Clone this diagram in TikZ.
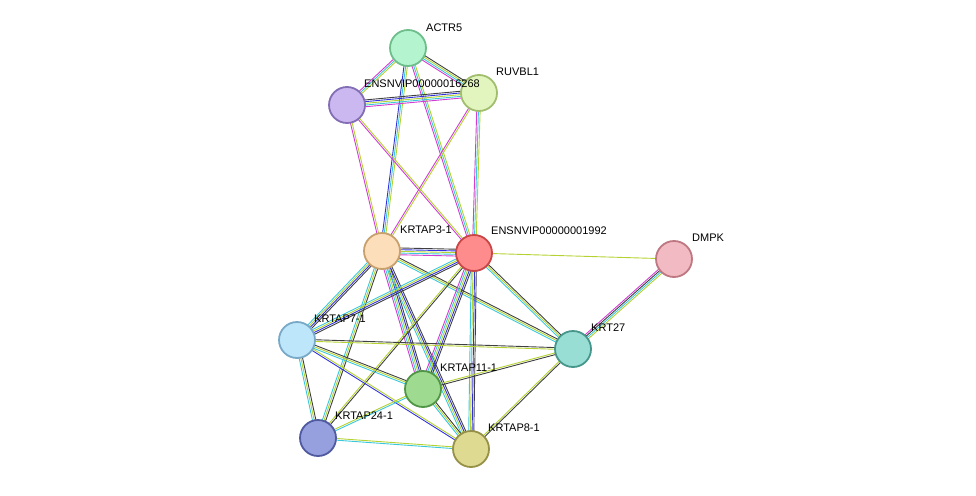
\documentclass[tikz,border=0pt]{standalone}
\usepackage{fontspec}
\setmainfont{Liberation Sans}
\usetikzlibrary{calc, backgrounds}
\definecolor{emag}{HTML}{D23CD2}
\definecolor{ecya}{HTML}{3CC8DC}
\definecolor{elim}{HTML}{B4D232}
\definecolor{eblu}{HTML}{3232DC}
\definecolor{eblk}{HTML}{404040}
\tikzset{
prot/.style={circle, draw, line width=1.8pt, minimum size=36pt, inner sep=0pt}, % protein nodes
lbl/.style={anchor=west, font=\fontsize{11}{12}\selectfont, inner sep=1pt}, % protein names
}
% multi-coloured evidence edge: nodes, number of lines, colours
\newcommand{\ppilink}[4]{
  \foreach \c [count=\i] in {#4} {
    \pgfmathsetmacro{\o}{(\i-(#3+1)/2)*1.7}
    \draw[\c, line width=0.9pt] ($(#1.center)!\o pt!90:(#2.center)$) -- ($(#2.center)!\o pt!-90:(#1.center)$);
  }
}
\begin{document}
\begin{tikzpicture}[x=1pt, y=-1pt]
\useasboundingbox (0,0) rectangle (976,495);
\node[prot, fill={rgb,255:red,180;green,245;blue,208}, draw={rgb,255:red,110;green,190;blue,140}] (actr5) at (408,48) {};
\node[prot, fill={rgb,255:red,204;green,184;blue,240}, draw={rgb,255:red,130;green,110;blue,180}] (e16268) at (347,105) {};
\node[prot, fill={rgb,255:red,226;green,245;blue,190}, draw={rgb,255:red,160;green,190;blue,110}] (ruvbl1) at (479,93) {};
\node[prot, fill={rgb,255:red,253;green,222;blue,186}, draw={rgb,255:red,200;green,160;blue,110}] (krtap3) at (382,251) {};
\node[prot, fill={rgb,255:red,255;green,140;blue,140}, draw={rgb,255:red,200;green,70;blue,70}] (e1992) at (474,253) {};
\node[prot, fill={rgb,255:red,242;green,186;blue,194}, draw={rgb,255:red,190;green,120;blue,130}] (dmpk) at (674,259) {};
\node[prot, fill={rgb,255:red,190;green,230;blue,250}, draw={rgb,255:red,120;green,170;blue,200}] (krtap7) at (297,340) {};
\node[prot, fill={rgb,255:red,153;green,222;blue,212}, draw={rgb,255:red,70;green,150;blue,140}] (krt27) at (573,349) {};
\node[prot, fill={rgb,255:red,158;green,218;blue,144}, draw={rgb,255:red,80;green,150;blue,70}] (krtap11) at (423,389) {};
\node[prot, fill={rgb,255:red,150;green,160;blue,222}, draw={rgb,255:red,80;green,90;blue,160}] (krtap24) at (318,438) {};
\node[prot, fill={rgb,255:red,222;green,218;blue,146}, draw={rgb,255:red,150;green,145;blue,70}] (krtap8) at (471,449) {};

\node[lbl] (l1) at (425,28) {ACTR5};
\node[lbl] (l2) at (363,84) {ENSNVIP00000016268};
\node[lbl] (l3) at (495,72) {RUVBL1};
\node[lbl] (l4) at (399,230) {KRTAP3-1};
\node[lbl] (l5) at (490,231) {ENSNVIP00000001992};
\node[lbl] (l6) at (691,238) {DMPK};
\node[lbl] (l7) at (313,319) {KRTAP7-1};
\node[lbl] (l8) at (590,328) {KRT27};
\node[lbl] (l9) at (439,368) {KRTAP11-1};
\node[lbl] (l10) at (334,416) {KRTAP24-1};
\node[lbl] (l11) at (487,428) {KRTAP8-1};

\begin{scope}[on background layer]
\ppilink{actr5}{e16268}{3}{emag,ecya,elim}
\ppilink{actr5}{ruvbl1}{4}{emag,ecya,elim,eblk}
\ppilink{actr5}{krtap3}{3}{eblu,ecya,elim}
\ppilink{actr5}{e1992}{3}{emag,ecya,elim}
\ppilink{e16268}{ruvbl1}{5}{emag,ecya,elim,eblu,eblk}
\ppilink{e16268}{krtap3}{2}{emag,elim}
\ppilink{e16268}{e1992}{2}{emag,elim}
\ppilink{ruvbl1}{krtap3}{2}{emag,elim}
\ppilink{ruvbl1}{e1992}{3}{emag,ecya,elim}
\ppilink{krtap3}{e1992}{5}{emag,ecya,elim,eblu,eblk}
\ppilink{e1992}{dmpk}{1}{elim}
\ppilink{dmpk}{krt27}{4}{emag,eblk,ecya,elim}
\ppilink{krtap3}{krtap7}{4}{ecya,elim,eblu,eblk}
\ppilink{krtap3}{krt27}{3}{ecya,elim,eblk}
\ppilink{krtap3}{krtap11}{5}{emag,ecya,elim,eblu,eblk}
\ppilink{krtap3}{krtap24}{3}{ecya,elim,eblk}
\ppilink{krtap3}{krtap8}{4}{ecya,elim,eblu,eblk}
\ppilink{e1992}{krtap7}{4}{ecya,elim,eblu,eblk}
\ppilink{e1992}{krt27}{3}{ecya,elim,eblk}
\ppilink{e1992}{krtap11}{5}{emag,ecya,elim,eblu,eblk}
\ppilink{e1992}{krtap24}{2}{elim,eblk}
\ppilink{e1992}{krtap8}{4}{ecya,elim,eblu,eblk}
\ppilink{krtap7}{krt27}{2}{elim,eblk}
\ppilink{krtap7}{krtap11}{3}{ecya,elim,eblk}
\ppilink{krtap7}{krtap24}{3}{ecya,elim,eblk}
\ppilink{krtap7}{krtap8}{2}{eblu,elim}
\ppilink{krt27}{krtap11}{2}{elim,eblk}
\ppilink{krt27}{krtap8}{2}{elim,eblk}
\ppilink{krtap11}{krtap8}{3}{ecya,elim,eblk}
\ppilink{krtap24}{krtap8}{2}{ecya,elim}
\ppilink{krtap24}{krtap11}{2}{ecya,elim}
\end{scope}
\end{tikzpicture}
\end{document}
